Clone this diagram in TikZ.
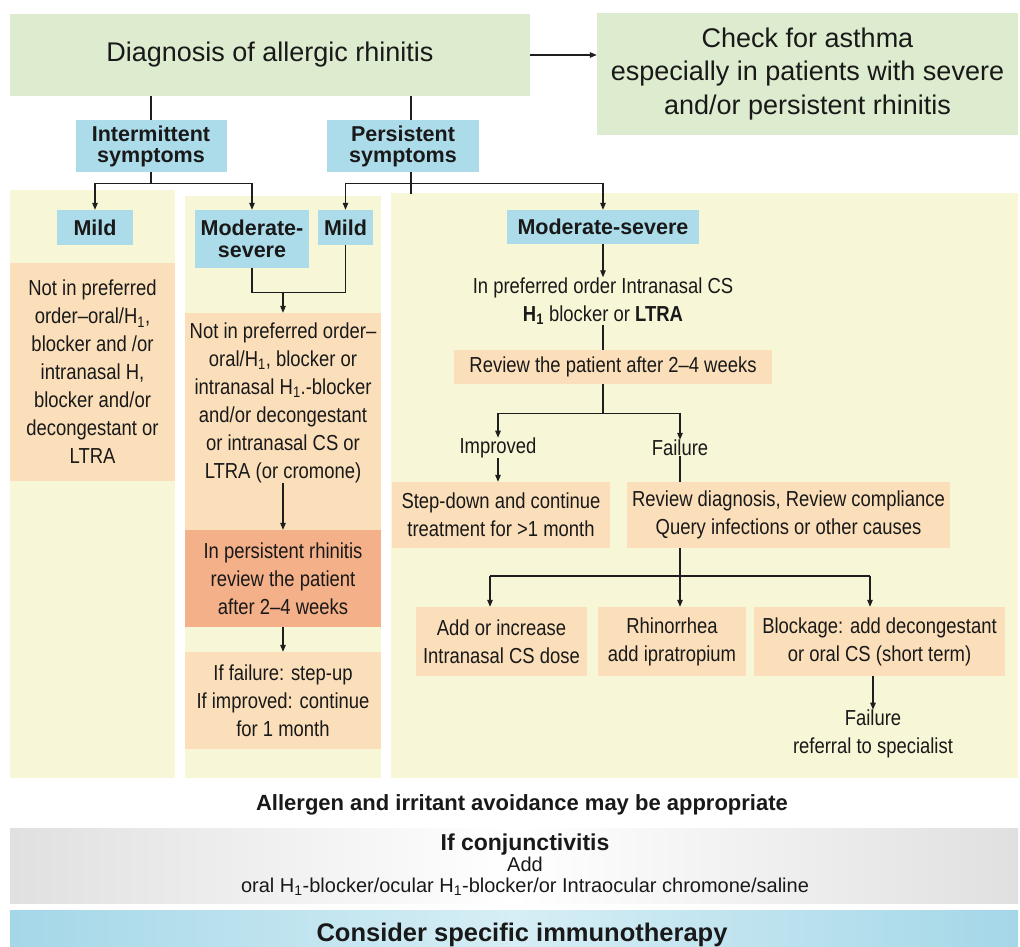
\documentclass[tikz,border=0pt]{standalone}
\usepackage{fontspec}
\setmainfont{Liberation Sans}
\newfontfamily\condfont[FakeStretch=0.85]{Liberation Sans}
\usetikzlibrary{arrows.meta}
\definecolor{cgreen}{RGB}{221,235,206}
\definecolor{cyellow}{RGB}{247,246,214}
\definecolor{corange}{RGB}{251,223,186}
\definecolor{cred}{RGB}{244,176,136}
\definecolor{cblue}{RGB}{172,220,234}
\definecolor{cgray}{RGB}{224,224,224}
\definecolor{cblueL}{RGB}{164,215,232}
\definecolor{cblueC}{RGB}{214,238,245}
\definecolor{cline}{RGB}{30,30,30}
\newcommand\hsub{\textsubscript{1}}
\begin{document}
\begin{tikzpicture}[x=1pt,y=-1pt,
  box/.style={inner sep=0pt, align=center, text=black!90},
  greenbox/.style={box, fill=cgreen, font=\fontsize{27}{33.5}\selectfont},
  bluebox/.style={box, fill=cblue, font=\bfseries\fontsize{21.5}{21}\selectfont},
  orbox/.style={box, fill=corange, font=\condfont\fontsize{21.7}{28}\selectfont},
  redbox/.style={orbox, fill=cred},
  panel/.style={fill=cyellow, inner sep=0pt, draw=none},
  txt/.style={inner sep=0pt, align=center, text=black!90, font=\condfont\fontsize{21.7}{28}\selectfont},
  conn/.style={draw=cline, line width=1.1pt},
  arr/.style={conn, -{Triangle[length=7pt,width=5.5pt]}}]
\useasboundingbox (0,0) rectangle (1020,947);

% ---- top ----
\node[greenbox, minimum width=520pt, minimum height=82pt] (diag) at (270,55) {Diagnosis of allergic rhinitis};
\node[greenbox, minimum width=421pt, minimum height=122pt] (asthma) at (807.5,74) {Check for asthma\\especially in patients with severe\\and/or persistent rhinitis};
\draw[arr] (diag.east) -- (diag.east -| asthma.west);

\node[bluebox, minimum width=151pt, minimum height=52pt] (int) at (151,146) {Intermittent\\symptoms};
\node[bluebox, minimum width=152pt, minimum height=52pt] (pers) at (403,146) {Persistent\\symptoms};
\draw[conn] (int.north |- diag.south) -- (int.north);
\draw[conn] ([xshift=8pt]pers.north |- diag.south) -- ([xshift=8pt]pers.north);

% ---- panels ----
\node[panel, minimum width=165pt, minimum height=588pt] (pL) at (92.5,484) {};
\node[panel, minimum width=196pt, minimum height=582pt] (pM) at (283,487) {};
\node[panel, minimum width=627pt, minimum height=585pt] (pR) at (704.5,485.5) {};

% ---- left column ----
\node[bluebox, minimum width=76pt, minimum height=35pt] (mildL) at (95,227.5) {Mild};
\node[orbox, minimum width=165pt, minimum height=218pt] (oL) at (92.5,372) {Not in preferred\\order–oral/H\hsub,\\blocker and /or\\intranasal H,\\blocker and/or\\decongestant or\\LTRA};

% ---- middle column ----
\node[bluebox, minimum width=114pt, minimum height=58pt, font=\bfseries\fontsize{21.5}{22}\selectfont] (modM) at (252,239) {Moderate-\\severe};
\node[bluebox, minimum width=55pt, minimum height=35pt] (mildM) at (345.5,227.5) {Mild};

\draw[conn] (int.south) -- ++(0,11) coordinate (ib);
\draw[arr] (ib) -| (mildL.north);
\draw[arr] (ib) -| (modM.north);

\node[orbox, minimum width=196pt, minimum height=217pt] (oMbg) at (283,421.5) {};
\node[txt] (oM) at (283,402.5) {Not in preferred order–\\oral/H\hsub, blocker or\\intranasal H\hsub.-blocker\\and/or decongestant\\or intranasal CS or\\LTRA (or cromone)};
\draw[conn] (modM.south) -- ++(0,24) coordinate (mj) -| (mildM.south);
\draw[arr] (mj -| oMbg.north) -- (oMbg.north);
\node[redbox, minimum width=196pt, minimum height=97pt] (red) at (283,578.5) {In persistent rhinitis\\review the patient\\after 2–4 weeks};
\draw[arr] (oM.south) -- (oM.south |- red.north);
\node[orbox, minimum width=196pt, minimum height=97pt] (oM3) at (283,700.5) {If failure: step-up\\If improved: continue\\for 1 month};
\draw[arr] (red.south) -- (oM3.north);

% ---- right column ----
\node[bluebox, minimum width=192pt, minimum height=34pt] (modR) at (603,227) {Moderate-severe};
\draw[conn] ([xshift=8pt]pers.south) -- ++(0,22);
\coordinate (pb) at ([xshift=8pt,yshift=-11pt]pers.south);
\draw[arr] (pb) -| (mildM.north);
\draw[arr] (pb) -| (modR.north);

\node[txt] (pref) at (603,301) {In preferred order Intranasal CS\\\textbf{H\hsub} blocker or \textbf{LTRA}};
\draw[arr] (modR.south) -- (pref.north);
\node[orbox, minimum width=318pt, minimum height=34pt] (rev) at (613,367) {Review the patient after 2–4 weeks};
\draw[conn] (pref.south) -- (pref.south |- rev.north);
\draw[conn] (pref.south |- rev.south) -- ++(0,29) coordinate (rvj);
\node[txt] (imp) at (498,448) {Improved};
\node[txt] (fail) at (680,448) {Failure};
\draw[arr] (rvj) -| (imp.north);
\draw[arr] (rvj) -| (fail.north);

\node[orbox, minimum width=218pt, minimum height=66pt] (sd) at (501,515) {Step-down and continue\\treatment for >1 month};
\node[orbox, minimum width=323pt, minimum height=66pt] (rd) at (788.5,515) {Review diagnosis, Review compliance\\Query infections or other causes};
\draw[arr] (imp.south) -- (imp.south |- sd.north);
\draw[conn] (fail.south) -- (fail.south |- rd.north);

\node[orbox, minimum width=171pt, minimum height=69pt] (b1) at (501.5,641.5) {Add or increase\\Intranasal CS dose};
\node[orbox, minimum width=148pt, minimum height=69pt] (b2) at (672,641.5) {Rhinorrhea\\add ipratropium};
\node[orbox, minimum width=251pt, minimum height=69pt] (b3) at (879.5,641.5) {Blockage: add decongestant\\or oral CS (short term)};
\draw[conn] (fail.south |- rd.south) -- ++(0,28) coordinate (rj);
\coordinate (rjL) at (490,576);
\coordinate (rjR) at (870,576);
\draw[conn] (rjL) -- (rjR);
\draw[arr] (rjL) -- (rjL |- b1.north);
\draw[arr] (rj) -- (rj |- b2.north);
\draw[arr] (rjR) -- (rjR |- b3.north);
\node[txt] (fail2) at (873,734) {Failure\\referral to specialist};
\draw[arr] (fail2.north |- b3.south) -- (fail2.north);

% ---- bottom ----
\node[inner sep=0pt, text=black!90, font=\bfseries\fontsize{22}{26}\selectfont] (avoid) at (522,805) {Allergen and irritant avoidance may be appropriate};
\node[minimum width=1008pt, minimum height=75pt, inner sep=0pt, left color=cgray, right color=cgray, middle color=white] (conj) at (514,865.5) {};
\node[inner sep=0pt, align=center, text=black!90, font=\fontsize{20}{21}\selectfont] (conjT) at (525,865) {{\bfseries\fontsize{23}{24}\selectfont If conjunctivitis}\\Add\\oral H\hsub-blocker/ocular H\hsub-blocker/or Intraocular chromone/saline};
\node[minimum width=1008pt, minimum height=37pt, inner sep=0pt, left color=cblueL, right color=cblueL, middle color=cblueC] (imm) at (514,928.5) {};
\node[inner sep=0pt, anchor=base, text=black!90, font=\bfseries\fontsize{25.5}{28}\selectfont] (immT) at (522,941) {Consider specific immunotherapy};
\end{tikzpicture}
\end{document}
